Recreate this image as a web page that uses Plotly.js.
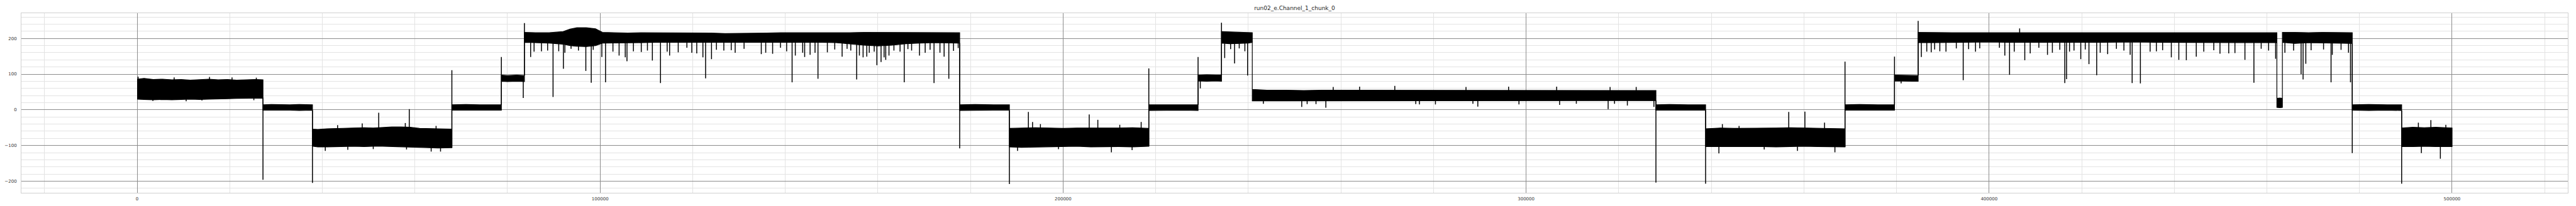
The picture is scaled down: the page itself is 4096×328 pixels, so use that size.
<!DOCTYPE html>
<html>
<head>
<meta charset="utf-8">
<script src="https://cdn.plot.ly/plotly-3.0.1.min.js"></script>
<style>html,body{margin:0;padding:0;background:#fff;}#chart{width:4096px;height:328px;}</style>
</head>
<body>
<div id="chart"></div>
<script>
// Title and axes
const chartTitle = "run02_e.Channel_1_chunk_0";
const xTickVals = [0, 100000, 200000, 300000, 400000, 500000];
const xTickText = ["0", "100000", "200000", "300000", "400000", "500000"];
const yTickVals = [-200, -100, 0, 100, 200];
const yTickText = ["\u2212200", "\u2212100", "0", "100", "200"];

// Signal envelope (sample index, upper edge, lower edge), read segment by segment
const envX = [
  0, 1500, 3500, 5500, 7500, 9500, 11500, 13500, 15500, 17500, 19500, 21500, 23500, 25500, 27180,
  27180, 29000, 31000, 33000, 35000, 37870,
  37870, 39000, 41000, 43000, 45000, 47000, 49000, 51000, 53000, 55000, 57000, 59000, 61000, 63000, 65000, 67980,
  67980, 71000, 74000, 78670,
  78670, 80000, 82000, 83650,
  83650, 86000, 89000, 92000, 93500, 95000, 97000, 99000, 100500, 103000, 106000, 109000, 112000, 115000, 118000, 121000, 124000, 127000, 130000, 133000, 136000, 139000, 142000, 145000, 148000, 151000, 154000, 157000, 160000, 163000, 166000, 169000, 172000, 175000, 177660,
  177660, 181000, 185000, 188400,
  188400, 191000, 194000, 197000, 200000, 203000, 206000, 209000, 212000, 215000, 218510,
  218510, 222000, 226000, 229150,
  229150, 231000, 233000, 234210,
  234210, 236000, 238000, 240000, 240860,
  240860, 244000, 248000, 252000, 256000, 260000, 264000, 268000, 272000, 276000, 280000, 284000, 288000, 292000, 296000, 300000, 304000, 308000, 312000, 316000, 320000, 324000, 328040,
  328040, 331000, 335000, 338770,
  338770, 342000, 345000, 348000, 351000, 354000, 357000, 360000, 363000, 366000, 368880,
  368880, 372000, 376000, 379570,
  379570, 381500, 383500, 384680,
  384680, 388000, 392000, 396000, 400000, 404000, 408000, 412000, 416000, 420000, 424000, 428000, 432000, 436000, 440000, 444000, 448000, 452000, 456000, 460000, 462160,
  462160, 462800, 463350,
  463350, 466000, 469000, 472000, 475000, 478440,
  478440, 482000, 486000, 489110,
  489110, 491500, 494000, 496500, 500000
];
const envHi = [
  86, 88, 85, 86, 84, 85, 83, 85, 86, 84, 85, 83, 84, 85, 84,
  14, 15, 14, 14, 15, 14,
  -54, -55, -53, -52, -51, -51, -50, -51, -49, -48, -48, -49, -52, -53, -53, -54,
  14, 15, 14, 14,
  97, 96, 97, 96,
  217, 216, 216, 219, 226, 230, 230, 227, 217, 216, 215, 216, 216, 215, 215, 216, 215, 214, 214, 215, 215, 216, 216, 215, 215, 215, 216, 217, 217, 216, 216, 216, 217, 216, 216,
  14, 15, 14, 14,
  -52, -51, -50, -51, -52, -51, -51, -52, -51, -50, -52,
  14, 14, 15, 14,
  97, 98, 97, 97,
  219, 218, 218, 217, 216,
  57, 55, 55, 54, 55, 55, 55, 54, 55, 55, 55, 54, 55, 55, 55, 55, 55, 55, 54, 55, 55, 54, 54,
  14, 15, 14, 14,
  -53, -51, -52, -52, -51, -51, -50, -51, -51, -52, -53,
  14, 15, 14, 14,
  97, 97, 96, 96,
  217, 216, 216, 216, 216, 217, 216, 216, 216, 216, 216, 216, 216, 216, 216, 216, 216, 216, 217, 217, 216,
  32, 33, 32,
  217, 217, 216, 217, 217, 216,
  14, 15, 14, 14,
  -51, -49, -50, -49, -51
];
const envLo = [
  30, 29, 28, 29, 28, 29, 30, 29, 30, 31, 31, 32, 32, 33, 33,
  -1, -2, -1, -1, -2, -1,
  -102, -104, -104, -103, -103, -102, -103, -102, -102, -103, -104, -104, -105, -106, -107, -106,
  -1, -2, -1, -1,
  80, 79, 80, 79,
  189, 188, 187, 184, 180, 178, 177, 180, 187, 188, 188, 188, 189, 189, 189, 189, 190, 190, 190, 189, 189, 189, 189, 189, 189, 188, 185, 181, 179, 181, 185, 187, 188, 188, 187,
  -2, -1, -1, -1,
  -104, -105, -104, -103, -103, -102, -104, -104, -103, -104, -102,
  -2, -1, -1, -2,
  81, 80, 81, 80,
  187, 185, 186, 187, 189,
  25, 26, 25, 25, 26, 26, 26, 26, 26, 26, 25, 25, 25, 26, 26, 26, 25, 25, 25, 25, 25, 26, 26,
  -1, -2, -1, -1,
  -103, -104, -104, -103, -103, -104, -103, -102, -103, -104, -104,
  -1, -2, -1, -1,
  81, 80, 80, 80,
  188, 188, 189, 189, 190, 189, 189, 188, 189, 189, 189, 189, 190, 189, 189, 189, 189, 189, 188, 188, 188,
  7, 6, 7,
  189, 186, 188, 188, 187, 186,
  -1, -2, -1, -2,
  -103, -103, -102, -103, -103
];

// Spikes as [sample index, value where the spike leaves the band, tip value]
const spikesSteps = [
  [27180, 33, -196], [37870, -1, -205], [67980, -106, 111], [78670, 14, 148], [83400, 79, 33],
  [83650, 96, 243], [177660, 187, -108], [188400, -1, -208], [218510, -102, 116], [229150, 14, 148],
  [234210, 97, 244], [328040, 26, -204], [338770, -1, -207], [368880, -104, 135], [379570, 14, 149],
  [384680, 96, 249], [478440, 186, -121], [489110, -2, -207]
];
const spikesA = [
  [210, 80, 93], [8000, 80, 91], [15640, 80, 92], [20500, 80, 91], [25740, 80, 90],
  [3400, 34, 25], [10590, 34, 24], [14000, 34, 26], [25210, 34, 27]
];
const spikesC = [
  [52180, -55, -8], [58780, -55, 2], [48620, -55, -38], [57920, -55, -37], [43300, -55, -43], [64570, -55, -45],
  [40640, -100, -115], [45500, -100, -112], [51000, -100, -110], [58190, -100, -111], [63510, -100, -117], [65530, -100, -117]
];
const spikesF = [
  [84990, 190, 148], [85735, 190, 163], [87330, 190, 164], [88660, 190, 166], [89833, 190, 36],
  [91060, 190, 164], [92070, 190, 115], [92390, 190, 160], [93720, 190, 171], [95320, 190, 166],
  [96913, 190, 109], [98084, 190, 76], [98510, 190, 168], [100370, 190, 148], [101171, 190, 77],
  [102770, 190, 163], [104100, 190, 152], [105430, 190, 147], [105800, 190, 136], [107190, 190, 164],
  [108890, 190, 162], [110220, 190, 166], [111285, 190, 138], [113041, 190, 75], [114480, 190, 163],
  [115010, 190, 152], [116870, 190, 161], [118740, 190, 174], [119800, 190, 160], [120870, 190, 158],
  [122200, 190, 147], [122782, 190, 88], [124060, 190, 142], [125120, 190, 168], [126720, 190, 166],
  [128320, 190, 167], [129170, 190, 160], [131090, 190, 171], [134810, 190, 156], [135770, 190, 160],
  [137260, 190, 157], [138960, 190, 174], [140290, 190, 164], [141466, 190, 77], [142160, 190, 152],
  [143750, 190, 160], [144180, 190, 148], [145350, 190, 154], [146420, 190, 160], [147055, 190, 87],
  [149080, 190, 161], [150680, 190, 169], [152270, 190, 149], [153340, 190, 171], [154140, 190, 166],
  [155412, 190, 85], [156000, 190, 152], [156800, 190, 147], [157600, 190, 149], [158130, 190, 160],
  [159200, 190, 163], [159777, 190, 125], [160680, 190, 134], [161330, 190, 147], [161690, 190, 140],
  [162390, 190, 152], [163460, 190, 166], [164780, 190, 163], [165685, 190, 77], [166480, 190, 170],
  [167280, 190, 166], [168984, 190, 152], [170210, 190, 160], [171270, 190, 168], [172120, 190, 75],
  [173400, 190, 160], [174300, 190, 149], [175315, 190, 87], [176330, 190, 165], [177340, 190, 173]
];
const spikesH = [
  [192500, -55, -6], [193400, -55, -34], [195100, -55, -40], [205640, -55, -13], [207500, -55, -28],
  [212240, -55, -42], [216860, -55, -34],
  [190160, -100, -115], [199000, -100, -110], [210430, -100, -119], [214900, -100, -113]
];
const spikesJK = [
  [229630, 81, 60], [234900, 190, 145], [236180, 190, 170], [237030, 190, 130],
  [238040, 190, 172], [239260, 190, 164], [239850, 190, 96]
];
const spikesL = [
  [243250, 26, 17], [251540, 26, 8], [252710, 26, 16], [254620, 26, 16], [256750, 26, 6],
  [276170, 26, 16], [276960, 26, 15], [280420, 26, 15], [288510, 26, 17], [289570, 26, 9],
  [298460, 26, 15], [307240, 26, 14], [310850, 26, 17], [317720, 26, 2], [319100, 26, 17],
  [321870, 26, 12], [327610, 26, 8],
  [258340, 54, 64], [264040, 54, 65], [271640, 54, 67], [287020, 54, 64], [296220, 54, 65],
  [306600, 54, 65], [318140, 54, 64], [323780, 54, 64]
];
const spikesN = [
  [342390, -55, -40], [346000, -55, -45], [356730, -55, -6], [360220, -55, -5], [364460, -55, -36],
  [341640, -100, -122], [351430, -100, -111], [358610, -100, -115], [366700, -100, -119]
];
const spikesP = [[381000, 81, 74]];
const spikesQ = [
  [385370, 190, 148], [386540, 190, 163], [387500, 190, 161], [388240, 190, 169], [389360, 190, 164],
  [390690, 190, 163], [392920, 190, 172], [394410, 190, 83], [395580, 190, 170], [397070, 190, 163],
  [397980, 190, 172], [402230, 190, 174], [403400, 190, 152], [404420, 190, 98], [405430, 190, 163],
  [406600, 214, 228], [407710, 190, 139], [408880, 190, 158], [410750, 190, 174], [412610, 190, 154],
  [413670, 190, 160], [415270, 190, 168],
  [416350, 190, 75], [416730, 190, 86], [417370, 190, 163], [418340, 190, 166], [419800, 190, 142],
  [420770, 190, 169], [421570, 190, 128], [423240, 190, 97], [424000, 190, 160], [425610, 190, 156],
  [427500, 190, 171], [429120, 190, 166], [430470, 190, 154], [430900, 190, 75], [432680, 190, 74],
  [434780, 190, 163], [436130, 190, 164], [437480, 190, 167], [439360, 190, 147], [440980, 190, 140],
  [442600, 190, 139], [444750, 190, 149], [446370, 190, 163], [448530, 190, 167], [449870, 190, 157],
  [451760, 190, 158], [453100, 190, 159], [455260, 190, 140], [457200, 190, 76], [458770, 190, 171],
  [460380, 190, 166], [461890, 190, 143]
];
const spikesS = [
  [463890, 190, 160], [465770, 190, 166], [467390, 190, 100], [467820, 190, 85], [468410, 190, 129],
  [469550, 190, 167], [472240, 190, 169], [473860, 190, 77], [474130, 190, 154], [476020, 190, 168],
  [477630, 190, 160], [478060, 190, 77]
];
const spikesU = [
  [492720, -55, -36], [495420, -55, -29], [498650, -55, -42],
  [493370, -100, -121], [497470, -100, -137]
];

// Build traces from the arrays
const polyX = envX.concat(envX.slice().reverse());
const polyY = envHi.concat(envLo.slice().reverse());
const allSpikes = [].concat(spikesSteps, spikesA, spikesC, spikesF, spikesH, spikesJK, spikesL, spikesN, spikesP, spikesQ, spikesS, spikesU);
const sx = [], sy = [];
allSpikes.forEach(function (s) {
  sx.push(s[0], s[0], null);
  sy.push(s[1], s[2], null);
});

const traces = [
  {type: 'scatter', mode: 'lines', x: polyX, y: polyY, fill: 'toself', fillcolor: '#000000',
   line: {color: '#000000', width: 1.2}, hoverinfo: 'skip', showlegend: false},
  {type: 'scatter', mode: 'lines', x: sx, y: sy, connectgaps: false,
   line: {color: '#000000', width: 1.5}, hoverinfo: 'skip', showlegend: false}
];

const font = {family: 'DejaVu Sans, sans-serif', size: 7, color: '#333333'};
const layout = {
  width: 4096, height: 328,
  margin: {l: 34, r: 13, t: 21, b: 21, pad: 0},
  paper_bgcolor: '#ffffff', plot_bgcolor: '#ffffff',
  font: font,
  showlegend: false,
  title: {text: chartTitle, x: 0.5, xref: 'paper', xanchor: 'center', y: 1 - 13.2 / 328, yref: 'container', yanchor: 'middle',
          font: {family: 'DejaVu Sans, sans-serif', size: 9, color: '#262626'}},
  xaxis: {
    range: [-25000, 525000], tickmode: 'array', tickvals: xTickVals, ticktext: xTickText,
    showgrid: true, gridcolor: '#8c8c8c', gridwidth: 1, zeroline: false,
    showline: true, mirror: true, linecolor: '#d0d0d0', linewidth: 1,
    ticks: '', ticklabelstandoff: 3, tickfont: font,
    minor: {dtick: 20000, tick0: 0, showgrid: true, gridcolor: '#e3e3e3', gridwidth: 1, ticks: ''}
  },
  yaxis: {
    range: [-232.5, 270.7], tickmode: 'array', tickvals: yTickVals, ticktext: yTickText,
    showgrid: true, gridcolor: '#8c8c8c', gridwidth: 1, zeroline: false,
    showline: true, mirror: true, linecolor: '#d0d0d0', linewidth: 1,
    ticks: '', ticklabelstandoff: 5, tickfont: font,
    minor: {dtick: 20, tick0: 0, showgrid: true, gridcolor: '#e3e3e3', gridwidth: 1, ticks: ''}
  }
};

Plotly.newPlot('chart', traces, layout, {staticPlot: true, displayModeBar: false});
</script>
</body>
</html>
